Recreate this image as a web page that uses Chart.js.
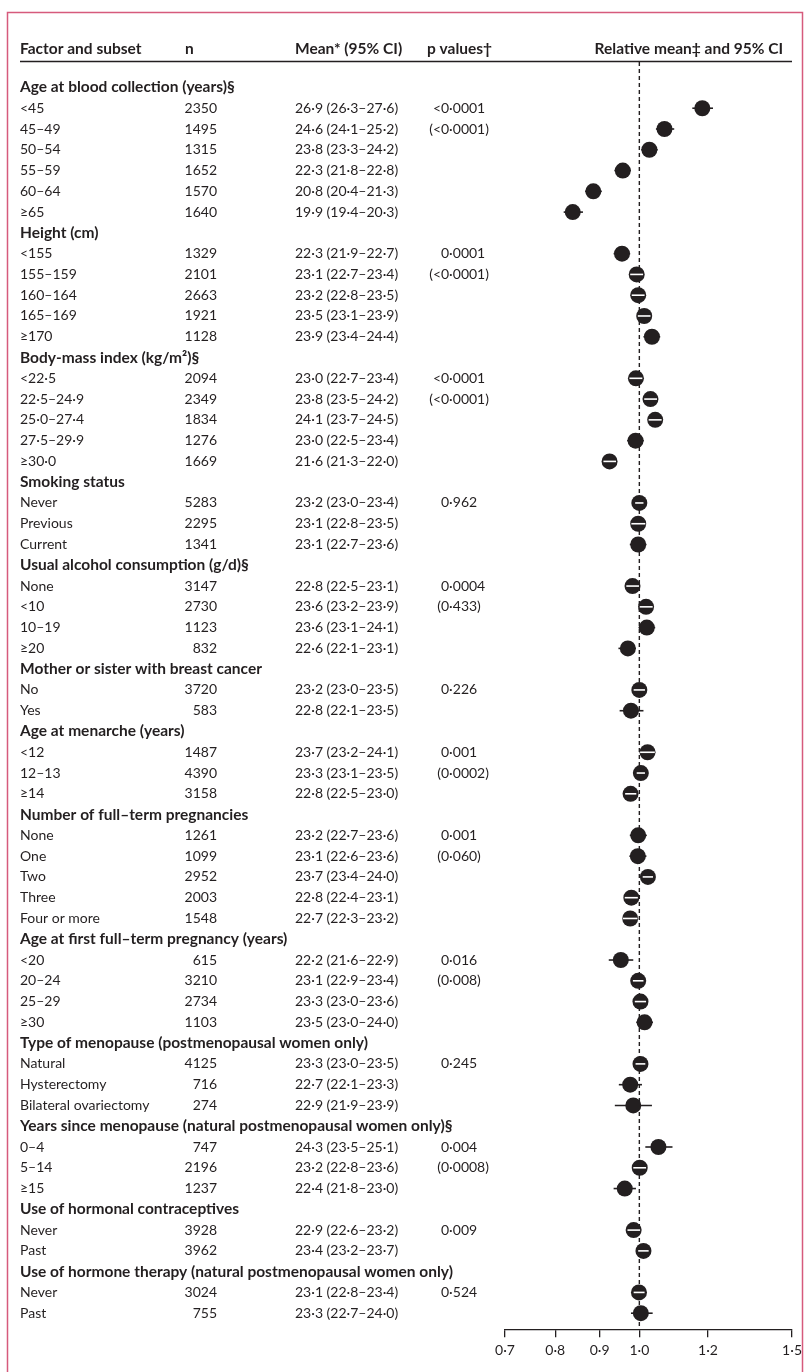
<!DOCTYPE html>
<html>
<head>
<meta charset="utf-8">
<script src="https://cdn.jsdelivr.net/npm/chart.js@4.4.1/dist/chart.umd.min.js"></script>
<style>
  html, body { margin: 0; padding: 0; background: #fff; }
  #wrap { position: relative; width: 807px; height: 1372px; }
</style>
</head>
<body>
<div id="wrap"><canvas id="forest"></canvas></div>
<script>
// DATA

const groupTitles = [
    'Age at blood collection (years)§',
    'Height (cm)',
    'Body-mass index (kg/m²)§',
    'Smoking status',
    'Usual alcohol consumption (g/d)§',
    'Mother or sister with breast cancer',
    'Age at menarche (years)',
    'Number of full–term pregnancies',
    'Age at first full–term pregnancy (years)',
    'Type of menopause (postmenopausal women only)',
    'Years since menopause (natural postmenopausal women only)§',
    'Use of hormonal contraceptives',
    'Use of hormone therapy (natural postmenopausal women only)'
];
const groupSizes = [6, 5, 5, 3, 4, 2, 3, 5, 4, 3, 3, 2, 2];

const subsets = [
    '<45', '45–49', '50–54', '55–59', '60–64', '≥65',
    '<155', '155–159', '160–164', '165–169', '≥170',
    '<22·5', '22·5–24·9', '25·0–27·4', '27·5–29·9', '≥30·0',
    'Never', 'Previous', 'Current',
    'None', '<10', '10–19', '≥20',
    'No', 'Yes',
    '<12', '12–13', '≥14',
    'None', 'One', 'Two', 'Three', 'Four or more',
    '<20', '20–24', '25–29', '≥30',
    'Natural', 'Hysterectomy', 'Bilateral ovariectomy',
    '0–4', '5–14', '≥15',
    'Never', 'Past',
    'Never', 'Past'
];
const counts = [
    2350, 1495, 1315, 1652, 1570, 1640,
    1329, 2101, 2663, 1921, 1128,
    2094, 2349, 1834, 1276, 1669,
    5283, 2295, 1341,
    3147, 2730, 1123, 832,
    3720, 583,
    1487, 4390, 3158,
    1261, 1099, 2952, 2003, 1548,
    615, 3210, 2734, 1103,
    4125, 716, 274,
    747, 2196, 1237,
    3928, 3962,
    3024, 755
];
const meanValues = [
    26.9, 24.6, 23.8, 22.3, 20.8, 19.9,
    22.3, 23.1, 23.2, 23.5, 23.9,
    23.0, 23.8, 24.1, 23.0, 21.6,
    23.2, 23.1, 23.1,
    22.8, 23.6, 23.6, 22.6,
    23.2, 22.8,
    23.7, 23.3, 22.8,
    23.2, 23.1, 23.7, 22.8, 22.7,
    22.2, 23.1, 23.3, 23.5,
    23.3, 22.7, 22.9,
    24.3, 23.2, 22.4,
    22.9, 23.4,
    23.1, 23.3
];
const meanLow = [
    26.3, 24.1, 23.3, 21.8, 20.4, 19.4,
    21.9, 22.7, 22.8, 23.1, 23.4,
    22.7, 23.5, 23.7, 22.5, 21.3,
    23.0, 22.8, 22.7,
    22.5, 23.2, 23.1, 22.1,
    23.0, 22.1,
    23.2, 23.1, 22.5,
    22.7, 22.6, 23.4, 22.4, 22.3,
    21.6, 22.9, 23.0, 23.0,
    23.0, 22.1, 21.9,
    23.5, 22.8, 21.8,
    22.6, 23.2,
    22.8, 22.7
];
const meanHigh = [
    27.6, 25.2, 24.2, 22.8, 21.3, 20.3,
    22.7, 23.4, 23.5, 23.9, 24.4,
    23.4, 24.2, 24.5, 23.4, 22.0,
    23.4, 23.5, 23.6,
    23.1, 23.9, 24.1, 23.1,
    23.5, 23.5,
    24.1, 23.5, 23.0,
    23.6, 23.6, 24.0, 23.1, 23.2,
    22.9, 23.4, 23.6, 24.0,
    23.5, 23.3, 23.9,
    25.1, 23.6, 23.0,
    23.2, 23.7,
    23.4, 24.0
];
const pValues = [
    '<0·0001', '(<0·0001)', '', '', '', '',
    '0·0001', '(<0·0001)', '', '', '',
    '<0·0001', '(<0·0001)', '', '', '',
    '0·962', '', '',
    '0·0004', '(0·433)', '', '',
    '0·226', '',
    '0·001', '(0·0002)', '',
    '0·001', '(0·060)', '', '', '',
    '0·016', '(0·008)', '', '',
    '0·245', '', '',
    '0·004', '(0·0008)', '',
    '0·009', '',
    '0·524', ''
];

// Relative mean and 95% CI
const relMean = [
    1.182, 1.069, 1.027, 0.957, 0.885, 0.838,
    0.955, 0.993, 0.997, 1.013, 1.034,
    0.991, 1.030, 1.043, 0.990, 0.924,
    1.000, 0.997, 0.997,
    0.982, 1.018, 1.020, 0.970,
    1.000, 0.978,
    1.022, 1.004, 0.977,
    0.997, 0.996, 1.023, 0.979, 0.976,
    0.952, 0.997, 1.003, 1.014,
    1.003, 0.976, 0.984,
    1.052, 1.001, 0.962,
    0.985, 1.011,
    0.999, 1.004
];
const relLow = [
    1.151, 1.045, 1.005, 0.936, 0.866, 0.818,
    0.934, 0.976, 0.980, 0.996, 1.011,
    0.974, 1.013, 1.025, 0.968, 0.909,
    0.989, 0.979, 0.975,
    0.966, 1.001, 0.998, 0.946,
    0.985, 0.949,
    1.002, 0.993, 0.963,
    0.975, 0.974, 1.009, 0.962, 0.957,
    0.922, 0.983, 0.988, 0.992,
    0.990, 0.947, 0.937,
    1.016, 0.984, 0.934,
    0.969, 0.997,
    0.985, 0.978
];
const relHigh = [
    1.216, 1.097, 1.050, 0.978, 0.905, 0.861,
    0.976, 1.010, 1.014, 1.030, 1.057,
    1.008, 1.048, 1.061, 1.012, 0.940,
    1.011, 1.016, 1.019,
    0.999, 1.036, 1.043, 0.991,
    1.015, 1.011,
    1.042, 1.015, 0.992,
    1.020, 1.019, 1.037, 0.996, 0.995,
    0.984, 1.011, 1.018, 1.037,
    1.016, 1.007, 1.034,
    1.092, 1.018, 0.991,
    1.002, 1.025,
    1.014, 1.036
];

const xTicks = [0.7, 0.8, 0.9, 1.0, 1.2, 1.5];

// STYLE

const ink = '#231f20';
const frameColor = '#d65a7c';
const fontName = 'Lato';
const markerRadius = 8;

// Row index for each group title and each subset
const rows = [];
let k = 0;
groupTitles.forEach((title, g) => {
    rows.push({ header: true, label: title });
    for (let j = 0; j < groupSizes[g]; j++) {
        rows.push({ header: false, idx: k });
        k++;
    }
});
const rowOfSubset = [];
rows.forEach((r, i) => { if (!r.header) rowOfSubset[r.idx] = i; });

const fmt = v => v.toFixed(1).replace('.', '·');

// Columns of text, CI whiskers, the 1·0 line and the frame
const forestTable = {
    id: 'forestTable',
    beforeDatasetsDraw(chart) {
        const ctx = chart.ctx;
        const xs = chart.scales.x;
        const ys = chart.scales.y;
        const area = chart.chartArea;
        ctx.save();
        ctx.strokeStyle = ink;

        // rule under the column titles
        ctx.lineWidth = 1.3;
        ctx.beginPath();
        ctx.moveTo(20, area.top - 0.5);
        ctx.lineTo(792, area.top - 0.5);
        ctx.stroke();

        // dashed line at 1·0
        const x1 = xs.getPixelForValue(1);
        ctx.lineWidth = 1.4;
        ctx.setLineDash([4, 3]);
        ctx.beginPath();
        ctx.moveTo(x1, area.top);
        ctx.lineTo(x1, area.bottom);
        ctx.stroke();
        ctx.setLineDash([]);

        // whiskers that stick out of the marker
        ctx.lineWidth = 1.6;
        relMean.forEach((m, i) => {
            const yp = ys.getPixelForValue(rowOfSubset[i]);
            const c = xs.getPixelForValue(m);
            const a = xs.getPixelForValue(relLow[i]);
            const b = xs.getPixelForValue(relHigh[i]);
            if (c - a < markerRadius - 0.5 && b - c < markerRadius - 0.5) return;
            ctx.beginPath();
            ctx.moveTo(a, yp);
            ctx.lineTo(b, yp);
            ctx.stroke();
        });
        ctx.restore();
    },
    afterDatasetsDraw(chart) {
        const ctx = chart.ctx;
        const xs = chart.scales.x;
        const ys = chart.scales.y;
        ctx.save();
        // whiskers that fit inside the marker are drawn in white
        ctx.strokeStyle = '#ffffff';
        ctx.lineWidth = 1.6;
        relMean.forEach((m, i) => {
            const yp = ys.getPixelForValue(rowOfSubset[i]);
            const c = xs.getPixelForValue(m);
            const a = xs.getPixelForValue(relLow[i]);
            const b = xs.getPixelForValue(relHigh[i]);
            if (!(c - a < markerRadius - 0.5 && b - c < markerRadius - 0.5)) return;
            ctx.beginPath();
            ctx.moveTo(a, yp);
            ctx.lineTo(b, yp);
            ctx.stroke();
        });
        ctx.restore();
    },
    afterDraw(chart) {
        const ctx = chart.ctx;
        const ys = chart.scales.y;
        const bold = `bold 15.5px ${fontName}`;
        const normal = `14px ${fontName}`;
        ctx.save();
        ctx.fillStyle = ink;
        ctx.textBaseline = 'middle';

        // column titles
        const yTitle = 49;
        ctx.font = bold;
        ctx.textAlign = 'left';
        ctx.fillText('Factor and subset', 20, yTitle);
        ctx.fillText('n', 185, yTitle);
        ctx.fillText('Mean* (95% CI)', 295, yTitle);
        ctx.fillText('p values†', 427, yTitle);
        ctx.textAlign = 'right';
        ctx.fillText('Relative mean‡ and 95% CI', 783, yTitle);

        rows.forEach((r, i) => {
            const yp = ys.getPixelForValue(i);
            ctx.textAlign = 'left';
            if (r.header) {
                ctx.font = bold;
                ctx.fillText(r.label, 20, yp);
                return;
            }
            const d = r.idx;
            ctx.font = normal;
            ctx.fillText(subsets[d], 20, yp);
            ctx.fillText(`${fmt(meanValues[d])} (${fmt(meanLow[d])}–${fmt(meanHigh[d])})`, 295, yp);
            ctx.textAlign = 'right';
            ctx.fillText(String(counts[d]), 217, yp);
            // p values line up on their first digit
            const p = pValues[d];
            if (p) {
                const cut = p.search(/\d/);
                ctx.fillText(p.slice(0, cut), 441, yp);
                ctx.textAlign = 'left';
                ctx.fillText(p.slice(cut), 441, yp);
            }
        });

        // frame
        ctx.strokeStyle = frameColor;
        ctx.lineWidth = 1.5;
        ctx.strokeRect(7.5, 12.5, 795, 1380);
        ctx.restore();
    }
};

new Chart(document.getElementById('forest'), {
    type: 'scatter',
    data: {
        datasets: [{
            label: 'Relative mean',
            data: relMean.map((m, i) => ({ x: m, y: rowOfSubset[i] })),
            pointRadius: markerRadius,
            pointHoverRadius: markerRadius,
            backgroundColor: ink,
            borderWidth: 0
        }]
    },
    options: {
        responsive: true,
        maintainAspectRatio: false,
        animation: false,
        layout: {
            padding: { left: 505, right: 14, top: 62, bottom: 8 }
        },
        plugins: {
            legend: { display: false },
            tooltip: { enabled: false }
        },
        scales: {
            x: {
                type: 'logarithmic',
                min: 0.7,
                max: 1.5,
                afterBuildTicks: scale => {
                    scale.ticks = xTicks.map(v => ({ value: v }));
                },
                ticks: {
                    color: ink,
                    font: { family: fontName, size: 14 },
                    padding: 5,
                    autoSkip: false,
                    maxRotation: 0,
                    callback: value => Number(value).toFixed(1).replace('.', '·')
                },
                grid: {
                    drawOnChartArea: false,
                    drawTicks: true,
                    tickLength: 8,
                    color: ink,
                    lineWidth: 1.3
                },
                border: { display: true, color: ink, width: 1.3 }
            },
            y: {
                type: 'linear',
                reverse: true,
                min: -1.225,
                max: 59.77,
                display: false
            }
        }
    },
    plugins: [forestTable]
});
</script>
</body>
</html>
